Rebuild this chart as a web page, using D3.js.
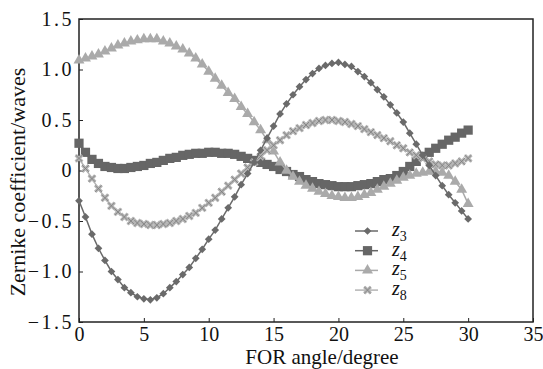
<!DOCTYPE html>
<html>
<head>
<meta charset="utf-8">
<script src="https://cdn.jsdelivr.net/npm/d3@7"></script>
<style>
  body { margin: 0; background: #fff; }
  svg { font-family: "Liberation Serif", "Times New Roman", serif; }
</style>
</head>
<body>
<svg width="543" height="369"></svg>
<script>
// FOR angle, degrees
const angles = [
  0, 0.5, 1, 1.5, 2, 2.5, 3, 3.5, 4, 4.5, 5, 5.5, 6, 6.5, 7, 7.5, 8, 8.5, 9, 9.5,
  10, 10.5, 11, 11.5, 12, 12.5, 13, 13.5, 14, 14.5, 15, 15.5, 16, 16.5, 17, 17.5,
  18, 18.5, 19, 19.5, 20, 20.5, 21, 21.5, 22, 22.5, 23, 23.5, 24, 24.5, 25, 25.5,
  26, 26.5, 27, 27.5, 28, 28.5, 29, 29.5, 30
];

const z3 = [
  -0.30, -0.46, -0.63, -0.77, -0.89, -1.00, -1.08, -1.16, -1.21, -1.25, -1.27,
  -1.28, -1.26, -1.22, -1.16, -1.10, -1.03, -0.96, -0.87, -0.78, -0.68, -0.59,
  -0.48, -0.37, -0.26, -0.14, -0.03, 0.08, 0.20, 0.32, 0.44, 0.56, 0.66, 0.75,
  0.83, 0.90, 0.96, 1.01, 1.04, 1.06, 1.07, 1.05, 1.03, 0.98, 0.93, 0.87, 0.80,
  0.73, 0.65, 0.57, 0.48, 0.37, 0.26, 0.15, 0.05, -0.05, -0.15, -0.24, -0.32,
  -0.40, -0.48
];

const z4 = [
  0.27, 0.18, 0.11, 0.07, 0.04, 0.03, 0.02, 0.02, 0.03, 0.04, 0.05, 0.07, 0.08,
  0.10, 0.12, 0.13, 0.15, 0.16, 0.17, 0.17, 0.18, 0.18, 0.17, 0.17, 0.16, 0.14,
  0.12, 0.10, 0.08, 0.06, 0.04, 0.01, -0.01, -0.04, -0.06, -0.09, -0.11, -0.13,
  -0.14, -0.15, -0.16, -0.16, -0.16, -0.15, -0.14, -0.13, -0.11, -0.09, -0.08,
  -0.05, -0.01, 0.04, 0.09, 0.14, 0.18, 0.22, 0.26, 0.30, 0.33, 0.37, 0.40
];

const z5 = [
  1.09, 1.11, 1.13, 1.15, 1.18, 1.21, 1.24, 1.26, 1.28, 1.29, 1.30, 1.30, 1.30,
  1.28, 1.26, 1.23, 1.20, 1.16, 1.11, 1.05, 0.98, 0.91, 0.84, 0.77, 0.71, 0.63,
  0.56, 0.48, 0.40, 0.30, 0.19, 0.08, 0.00, -0.06, -0.11, -0.15, -0.18, -0.21,
  -0.23, -0.25, -0.26, -0.27, -0.27, -0.26, -0.24, -0.22, -0.19, -0.16, -0.13,
  -0.10, -0.07, -0.05, -0.03, -0.02, -0.01, -0.01, -0.02, -0.05, -0.11, -0.19,
  -0.33
];

const z8 = [
  0.12, 0.02, -0.08, -0.18, -0.27, -0.35, -0.41, -0.46, -0.50, -0.52, -0.53,
  -0.54, -0.54, -0.53, -0.52, -0.50, -0.48, -0.45, -0.42, -0.37, -0.32, -0.27,
  -0.21, -0.15, -0.09, -0.03, 0.03, 0.08, 0.14, 0.20, 0.25, 0.30, 0.35, 0.39,
  0.42, 0.45, 0.47, 0.49, 0.50, 0.50, 0.49, 0.48, 0.46, 0.44, 0.41, 0.38, 0.35,
  0.32, 0.29, 0.25, 0.22, 0.18, 0.15, 0.12, 0.09, 0.06, 0.05, 0.05, 0.07, 0.09,
  0.12
];

const xTicks = [0, 5, 10, 15, 20, 25, 30, 35];
const yTicks = [-1.5, -1.0, -0.5, 0, 0.5, 1.0, 1.5];
const yTickLabels = ["\u22121.5", "\u22121.0", "\u22120.5", "0", "0.5", "1.0", "1.5"];

const width = 543;
const height = 369;
const margin = { left: 79, right: 10, top: 19, bottom: 47 };
const innerWidth = width - margin.left - margin.right;
const innerHeight = height - margin.top - margin.bottom;

const x = d3.scaleLinear().domain([0, 35]).range([0, innerWidth]);
const y = d3.scaleLinear().domain([-1.5, 1.5]).range([innerHeight, 0]);

const svg = d3.select("svg");
const plot = svg.append("g").attr("transform", `translate(${margin.left},${margin.top})`);

// axes, ticks pointing inward
const xAxis = d3.axisBottom(x).tickValues(xTicks).tickSizeInner(-4).tickSizeOuter(0).tickPadding(5);
const yAxis = d3.axisLeft(y).tickValues(yTicks).tickSizeInner(-4).tickSizeOuter(0).tickPadding(5)
  .tickFormat((d, i) => yTickLabels[i]);

const gx = plot.append("g").attr("transform", `translate(0,${innerHeight})`).call(xAxis);
const gy = plot.append("g").call(yAxis);
[gx, gy].forEach(g => {
  g.attr("font-family", null);
  g.select(".domain").remove();
  g.selectAll("line").attr("stroke", "#222").attr("stroke-width", 1);
  g.selectAll("text").attr("font-size", 20).attr("fill", "#111");
});
gy.selectAll("text").attr("letter-spacing", 2.5);

// frame
plot.append("rect")
  .attr("x", 0).attr("y", 0)
  .attr("width", innerWidth).attr("height", innerHeight)
  .attr("fill", "none").attr("stroke", "#222").attr("stroke-width", 1.5);

// axis titles
svg.append("text")
  .attr("x", 322).attr("y", 364)
  .attr("text-anchor", "middle").attr("font-size", 21).attr("fill", "#111")
  .text("FOR angle/degree");
svg.append("text")
  .attr("transform", `translate(25,182) rotate(-90)`)
  .attr("text-anchor", "middle").attr("font-size", 22).attr("fill", "#111")
  .text("Zernike coefficient/waves");

// marker drawing
function xMark(sel, s) {
  sel.append("path")
    .attr("d", `M${-s},${-s}L${s},${s}M${-s},${s}L${s},${-s}`)
    .attr("stroke", "#b4b4b4").attr("stroke-width", 3.2).attr("fill", "none");
  sel.append("path")
    .attr("d", `M${-s},${-s}L${s},${s}M${-s},${s}L${s},${-s}`)
    .attr("stroke", "#7a7a7a").attr("stroke-width", 0.8).attr("fill", "none");
}

function drawMarker(sel, s) {
  if (s.kind === "cross") {
    xMark(sel, 3.3);
  } else {
    sel.append("path")
      .attr("d", d3.symbol(s.symbol, s.size))
      .attr("transform", s.kind === "diamond" ? "rotate(45)" : null)
      .attr("fill", s.fill);
  }
}

const series = [
  { name: "4", values: z4, line: "#666", lw: 2, kind: "square", symbol: d3.symbolSquare, size: 85, fill: "#666" },
  { name: "5", values: z5, line: "#aaa", lw: 1.5, kind: "triangle", symbol: d3.symbolTriangle, size: 52, fill: "#aaa" },
  { name: "8", values: z8, line: "#b4b4b4", lw: 1.5, kind: "cross", fill: "#b4b4b4" },
  { name: "3", values: z3, line: "#6a6a6a", lw: 1.5, kind: "diamond", symbol: d3.symbolSquare, size: 30, fill: "#6a6a6a" }
];

const line = d3.line().x(d => x(d[0])).y(d => y(d[1]));

series.forEach(s => {
  const pts = angles.map((a, i) => [a, s.values[i]]);
  const g = plot.append("g");
  g.append("path").datum(pts)
    .attr("d", line).attr("fill", "none")
    .attr("stroke", s.line).attr("stroke-width", s.lw);
  g.selectAll("g.mark").data(pts).enter().append("g")
    .attr("class", "mark")
    .attr("transform", d => `translate(${x(d[0])},${y(d[1])})`)
    .each(function () { drawMarker(d3.select(this), s); });
});

// legend
const legendOrder = ["3", "4", "5", "8"];
const legend = svg.append("g").attr("transform", "translate(355,231)");
legendOrder.forEach((n, i) => {
  const s = series.find(d => d.name === n);
  const row = legend.append("g").attr("transform", `translate(0,${i * 19.7})`);
  row.append("line").attr("x1", 0).attr("x2", 23).attr("y1", 0).attr("y2", 0)
    .attr("stroke", s.line).attr("stroke-width", 1.5);
  drawMarker(row.append("g").attr("transform", "translate(12.5,0)"), s);
  const t = row.append("text").attr("x", 37).attr("y", 5).attr("fill", "#111");
  t.append("tspan").attr("font-style", "italic").attr("font-size", 20).text("z");
  t.append("tspan").attr("font-size", 14).attr("dy", 5).text(n);
});
</script>
</body>
</html>
